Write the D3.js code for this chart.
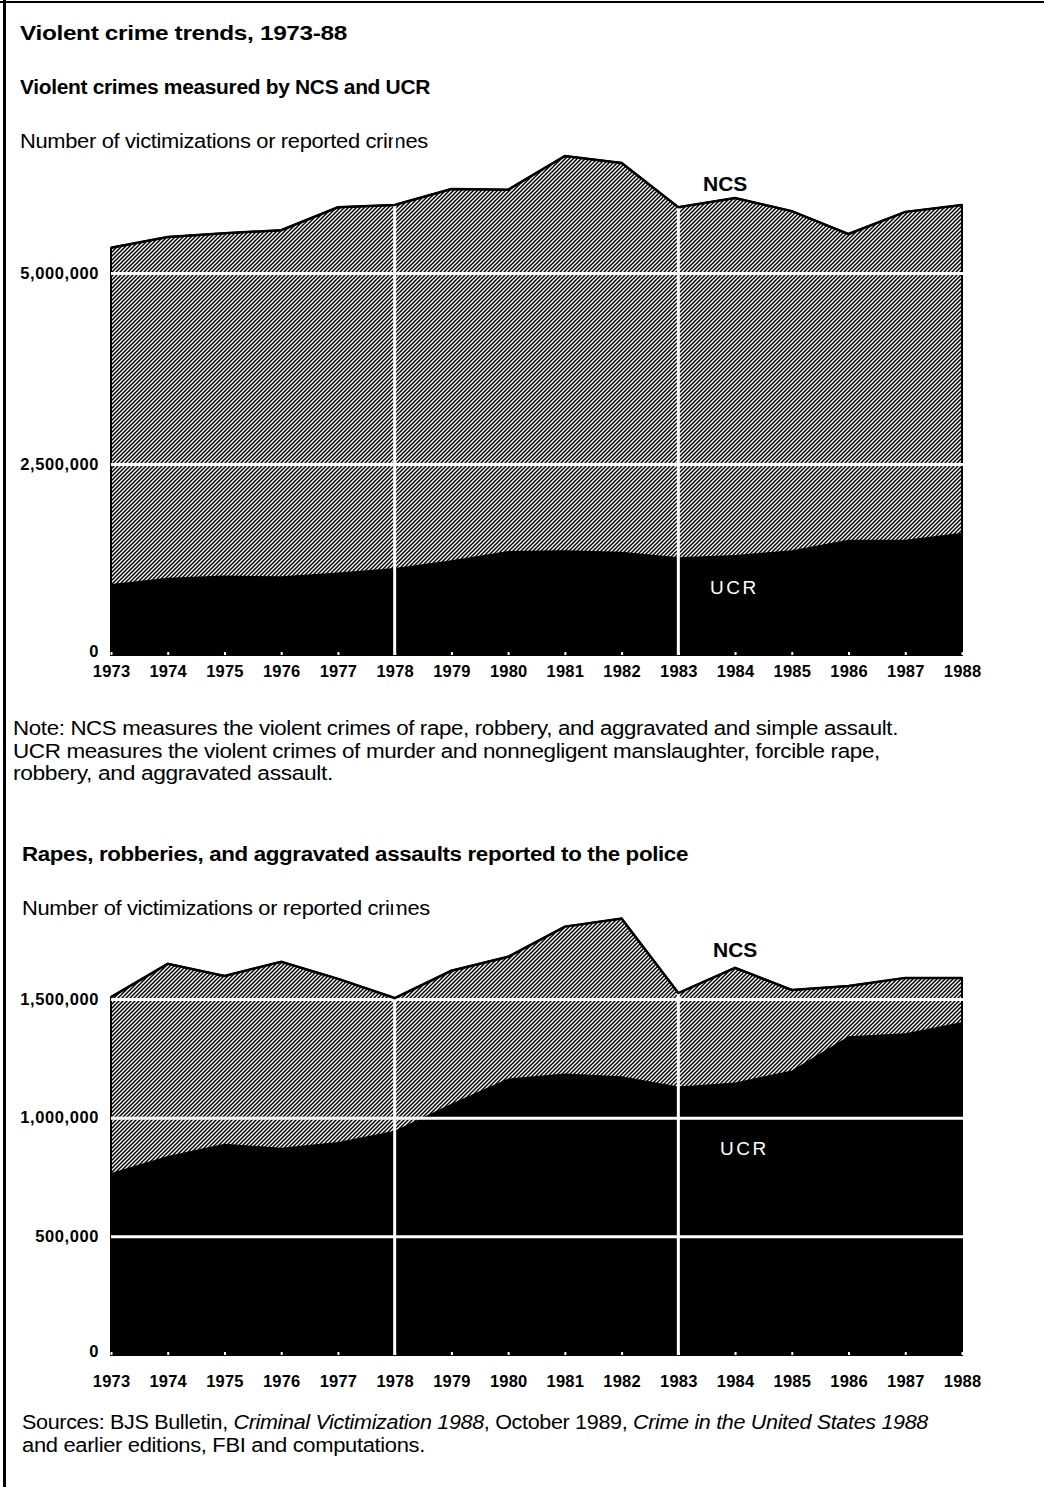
<!DOCTYPE html>
<html>
<head>
<meta charset="utf-8">
<script src="https://cdn.jsdelivr.net/npm/d3@7"></script>
<style>
  body { margin: 0; background: #fff; }
  svg { display: block; font-family: "Liberation Sans", Arial, sans-serif; }
</style>
</head>
<body>
<div id="chart"></div>
<script>
let years = [1973, 1974, 1975, 1976, 1977, 1978, 1979, 1980, 1981, 1982, 1983, 1984, 1985, 1986, 1987, 1988];

// violent crimes, NCS victimizations and UCR reported crimes
let violentNCS = [5330000, 5470000, 5520000, 5560000, 5860000, 5890000, 6100000, 6090000,
                  6530000, 6440000, 5860000, 5980000, 5810000, 5510000, 5800000, 5890000];
let violentUCR = [930000, 1010000, 1040000, 1030000, 1080000, 1140000, 1240000, 1360000,
                  1370000, 1350000, 1280000, 1310000, 1370000, 1510000, 1510000, 1600000];

// rapes, robberies and aggravated assaults reported to the police
let rraNCS = [1508000, 1648000, 1597000, 1657000, 1585000, 1504000, 1619000, 1678000,
              1805000, 1839000, 1525000, 1631000, 1538000, 1555000, 1589000, 1589000];
let rraUCR = [767000, 839000, 890000, 873000, 898000, 945000, 1059000, 1165000,
              1186000, 1174000, 1131000, 1148000, 1199000, 1343000, 1356000, 1403000];

let violentTicks = [0, 2500000, 5000000];
let rraTicks = [0, 500000, 1000000, 1500000];
let dividerYears = [1978, 1983];

let width = 1044,
    height = 1487;

const svg = d3.select("#chart")
  .append("svg")
  .attr("width", width)
  .attr("height", height)
  .attr("viewBox", [0, 0, width, height]);

// hatch used for the NCS area
let pat = svg.append("defs").append("pattern")
  .attr("id", "hatch")
  .attr("patternUnits", "userSpaceOnUse")
  .attr("width", 4)
  .attr("height", 4);
pat.append("rect").attr("width", 4).attr("height", 4).attr("fill", "#fff");
pat.append("path")
  .attr("d", "M-1,1 l2,-2 M0,4 l4,-4 M3,5 l2,-2")
  .attr("stroke", "#000")
  .attr("stroke-width", 1.5);

// frame
svg.append("rect").attr("x", 3).attr("y", 0).attr("width", 3).attr("height", height).attr("fill", "#000");
svg.append("rect").attr("x", 0).attr("y", 1).attr("width", width).attr("height", 2).attr("fill", "#000");

// the printed face is wide and tightly set: stretch the glyphs to the printed width
function addText(txt, x, y, size, weight, len) {
  return svg.append("text")
    .attr("x", x)
    .attr("y", y)
    .attr("font-size", size)
    .attr("font-weight", weight || "normal")
    .attr("letter-spacing", -0.3)
    .attr("textLength", len)
    .attr("lengthAdjust", "spacingAndGlyphs")
    .attr("fill", "#000")
    .text(txt);
}

addText("Violent crime trends, 1973-88", 20, 40, 21, "bold", 327);
addText("Violent crimes measured by NCS and UCR", 20, 94, 19.5, "bold", 410);
addText("Number of victimizations or reported crimes", 20, 148, 19.5, "normal", 408);

addText("Note: NCS measures the violent crimes of rape, robbery, and aggravated and simple assault.", 13, 735, 19.5, "normal", 885);
addText("UCR measures the violent crimes of murder and nonnegligent manslaughter, forcible rape,", 13, 758, 19.5, "normal", 867);
addText("robbery, and aggravated assault.", 13, 780, 19.5, "normal", 320);

addText("Rapes, robberies, and aggravated assaults reported to the police", 22, 861, 19.5, "bold", 666);
addText("Number of victimizations or reported crimes", 22, 915, 19.5, "normal", 408);

let src = addText("", 22, 1429, 19.5, "normal", 906);
src.append("tspan").text("Sources: BJS Bulletin, ");
src.append("tspan").attr("font-style", "italic").text("Criminal Victimization 1988");
src.append("tspan").text(", October 1989, ");
src.append("tspan").attr("font-style", "italic").text("Crime in the United States 1988");
addText("and earlier editions, FBI and computations.", 22, 1452, 19.5, "normal", 403);

function drawChart(ncs, ucr, ticks, yTop, yBottom, yearPad, ncsLabel, ucrLabel) {
  let data = years.map((yr, i) => ({ year: yr, ncs: ncs[i], ucr: ucr[i] }));

  let x = d3.scaleLinear()
    .domain(d3.extent(years))
    .range([111, 962]);

  let y = d3.scaleLinear()
    .domain([0, d3.max(ticks)])
    .range([yBottom, yTop]);

  let g = svg.append("g");

  let ncsArea = d3.area()
    .x(d => x(d.year))
    .y0(y(0))
    .y1(d => y(d.ncs));

  let ucrArea = d3.area()
    .x(d => x(d.year))
    .y0(y(0))
    .y1(d => y(d.ucr));

  g.append("path")
    .datum(data)
    .attr("fill", "url(#hatch)")
    .attr("stroke", "#000")
    .attr("stroke-width", 2)
    .attr("d", ncsArea);

  g.append("path")
    .datum(data)
    .attr("fill", "#000")
    .attr("d", ucrArea);

  // white grid lines and y labels
  let yAxis = g.append("g")
    .attr("transform", "translate(111,0)")
    .call(d3.axisLeft(y)
      .tickValues(ticks)
      .tickSize(-(x.range()[1] - x.range()[0]) - 2)
      .tickPadding(12)
      .tickFormat(d3.format(",")));
  yAxis.select(".domain").remove();
  yAxis.selectAll(".tick line")
    .attr("stroke", "#fff")
    .attr("stroke-width", 3)
    .filter(d => d === 0).remove();
  yAxis.selectAll(".tick text")
    .attr("font-family", "Liberation Sans, Arial, sans-serif")
    .attr("font-size", 16.5)
    .attr("font-weight", "bold")
    .attr("letter-spacing", 0.6)
    .attr("fill", "#000")
    .filter(d => d === 0)
    .attr("dy", "0.12em");

  for (let yr of dividerYears) {
    g.append("line")
      .attr("x1", x(yr)).attr("x2", x(yr))
      .attr("y1", y(0)).attr("y2", y(d3.max(ncs)) - 20)
      .attr("stroke", "#fff")
      .attr("stroke-width", 3);
  }

  // x axis: small white notches and year labels
  let xAxis = g.append("g")
    .attr("transform", `translate(0,${y(0)})`)
    .call(d3.axisBottom(x)
      .tickValues(years)
      .tickSize(-3)
      .tickPadding(yearPad)
      .tickFormat(d3.format("d")));
  xAxis.select(".domain").remove();
  xAxis.selectAll(".tick line")
    .attr("stroke", "#fff")
    .attr("stroke-width", 2);
  xAxis.selectAll(".tick text")
    .attr("font-family", "Liberation Sans, Arial, sans-serif")
    .attr("font-size", 16.5)
    .attr("font-weight", "bold")
    .attr("letter-spacing", 0.2)
    .attr("fill", "#000");

  // top outline of NCS
  g.append("path")
    .datum(data)
    .attr("fill", "none")
    .attr("stroke", "#000")
    .attr("stroke-width", 2.5)
    .attr("d", d3.line().x(d => x(d.year)).y(d => y(d.ncs)));

  g.append("text")
    .attr("x", ncsLabel[0])
    .attr("y", ncsLabel[1])
    .attr("font-size", 21)
    .attr("font-weight", "bold")
    .attr("fill", "#000")
    .text("NCS");

  g.append("text")
    .attr("x", ucrLabel[0])
    .attr("y", ucrLabel[1])
    .attr("font-size", 19)
    .attr("letter-spacing", 2.5)
    .attr("fill", "#fff")
    .text("UCR");
}

drawChart(violentNCS, violentUCR, violentTicks, 273, 655, 10, [703, 191], [710, 594]);
drawChart(rraNCS, rraUCR, rraTicks, 999, 1355, 20, [713, 957], [720, 1155]);
</script>
</body>
</html>
